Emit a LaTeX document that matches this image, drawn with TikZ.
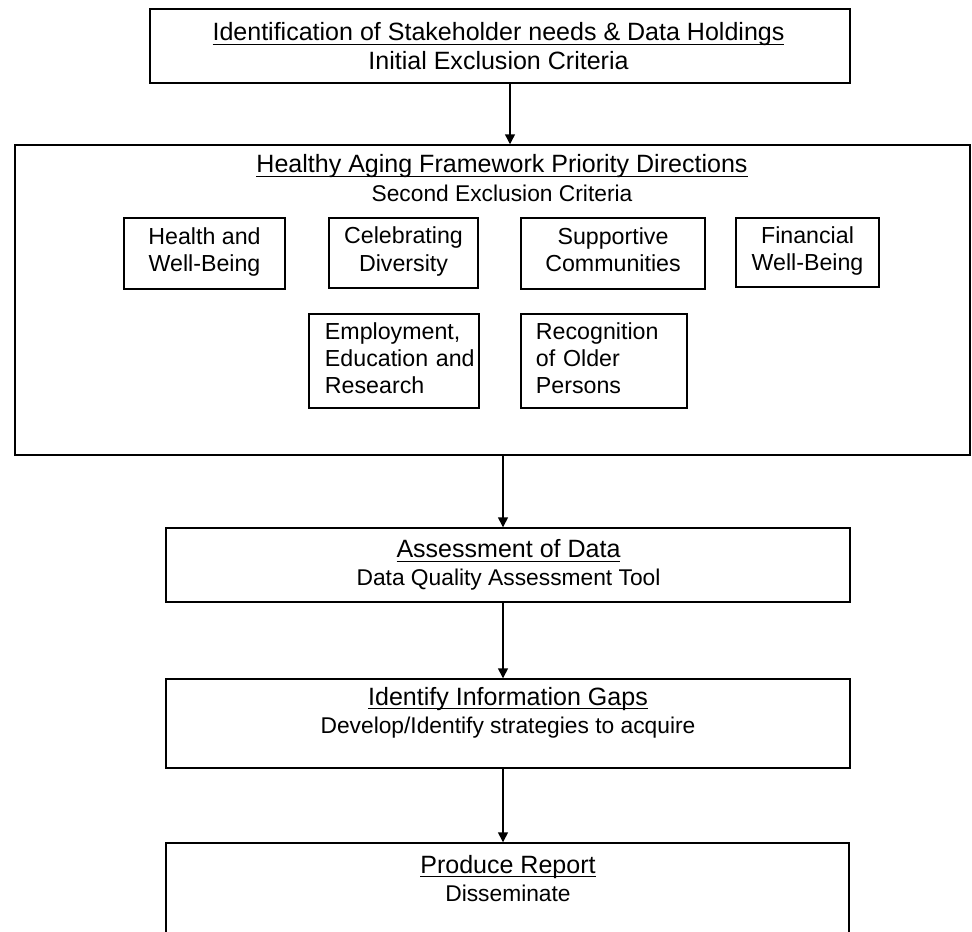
\documentclass[tikz,border=0pt]{standalone}
\usepackage{amsmath}
\usepackage{fontspec}
\setmainfont{Liberation Sans}
\usetikzlibrary{arrows.meta, positioning}
\newcommand{\headline}[1]{\underline{\smash[b]{#1}}}
\newcommand{\subline}[1]{{\fontsize{16.2}{20}\selectfont #1}}

\begin{document}
\begin{tikzpicture}[x=0.025cm, y=-0.025cm,
    every node/.style = {font=\fontsize{16.5}{19.5}\selectfont},
    stage/.style = {draw, line width=1pt, inner sep=0pt},
    theme/.style = {draw, line width=1pt, inner sep=0pt, align=center,
        execute at begin node=\strut, execute at end node=\strut},
    themeleft/.style = {theme, inner xsep=0.4cm, align=left},
    caption/.style = {align=center, inner sep=0pt, font=\fontsize{17.8}{20}\selectfont}]
    % \draw [help lines] (0,0) grid (972,932);
    \useasboundingbox (0,0) rectangle (972,932);

    % stage boxes
    \node (stake) [stage, minimum width=17.5cm, minimum height=1.85cm] at (500,46) {};
    \node (frame) [stage, minimum width=23.875cm, minimum height=7.75cm] at (492.5,300) {};
    \node (assess) [stage, minimum width=17.1cm, minimum height=1.85cm] at (508,565) {};
    \node (gaps) [stage, minimum width=17.1cm, minimum height=2.225cm] at (508,723.5) {};
    \node (report) [stage, minimum width=17.075cm, minimum height=3cm] at (507.5,903) {};

    % stage captions
    \node (stakeT) [caption] at (498.5,46) {\headline{Identification of Stakeholder needs \& Data Holdings}\\Initial Exclusion Criteria};
    \node (frameT) [caption] at (502,178) {\headline{Healthy Aging Framework Priority Directions}\\\subline{Second Exclusion Criteria}};
    \node (assessT) [caption] at (508.5,565) {\headline{Assessment of Data}\\\subline{Data Quality Assessment Tool}};
    \node (gapsT) [caption] at (508,712.5) {\headline{Identify Information Gaps}\\\subline{Develop/Identify strategies to acquire}};
    \node (reportT) [caption] at (508,878.5) {\headline{Produce Report}\\\subline{Disseminate}};

    % priority directions
    \node (health) [theme, minimum width=4.025cm, minimum height=1.775cm] at (204.5,253.5) {Health and\\Well-Being};
    \node (diversity) [theme, minimum width=3.725cm, minimum height=1.75cm] at (403.5,253) {Celebrating\\Diversity};
    \node (support) [theme, minimum width=4.6cm, minimum height=1.775cm] at (613,253.5) {Supportive\\Communities};
    \node (finance) [theme, minimum width=3.575cm, minimum height=1.725cm] at (807.5,252.5) {Financial\\Well-Being};
    \node (employ) [themeleft, text width=3.45cm, minimum height=2.35cm] at (394,361) {Employment,\\Education~and\\Research};
    \node (recog) [themeleft, inner xsep=0.375cm, text width=3.4cm, minimum height=2.35cm] at (604,361) {Recognition\\of Older\\Persons};

    \coordinate (a1) at (510,0);
    \coordinate (a2) at (503,0);

    \path [-{Triangle[length=7pt, width=7pt]}, line width=1pt]
        (stake.south -| a1) edge (frame.north -| a1)
        (frame.south -| a2) edge (assess.north -| a2)
        (assess.south -| a2) edge (gaps.north -| a2)
        (gaps.south -| a2) edge (report.north -| a2);
\end{tikzpicture}
\end{document}
